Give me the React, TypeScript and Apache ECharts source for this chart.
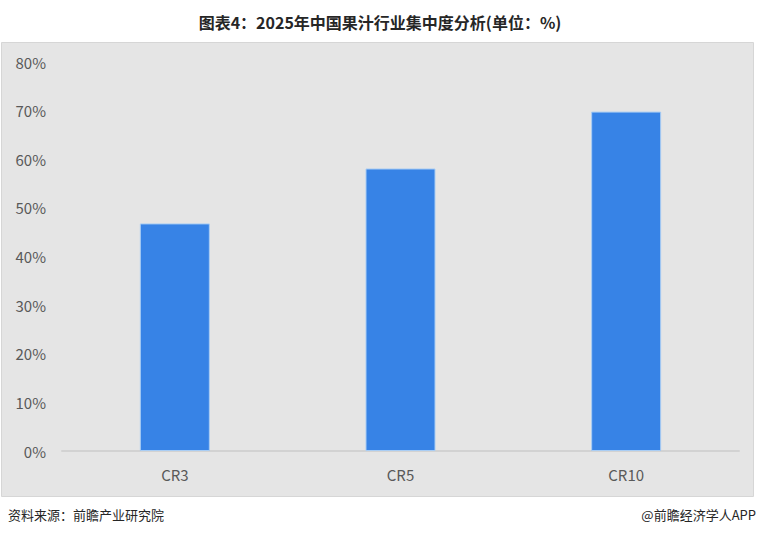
import React, { useEffect, useRef } from "react";
import * as echarts from "echarts";

const categories = ["CR3", "CR5", "CR10"];
const values = [46.8, 58.1, 69.8];
const yTicks = [0, 10, 20, 30, 40, 50, 60, 70, 80];

const titleText = "图表4：2025年中国果汁行业集中度分析(单位：%)";
const sourceText = "资料来源：前瞻产业研究院";
const creditText = "@前瞻经济学人APP";

export default function App() {
  const ref = useRef<HTMLDivElement>(null);
  useEffect(() => {
    document.body.style.margin = "0";
    const chart = echarts.init(ref.current!, null, { renderer: "svg" });
    const font = "'Noto Sans CJK SC', 'Noto Sans', sans-serif";
    chart.setOption({
      animation: false,
      backgroundColor: "#ffffff",
      textStyle: { fontFamily: font },
      title: {
        text: titleText,
        left: "center",
        top: 9,
        textStyle: { fontSize: 16, fontWeight: "bold", color: "#262626", fontFamily: font },
      },
      graphic: [
        {
          type: "rect",
          z: -10,
          silent: true,
          shape: { x: 1.5, y: 42.5, width: 752, height: 454 },
          style: { fill: "#e5e5e5", stroke: "#d6d6d6", lineWidth: 1 },
        },
        {
          type: "text",
          left: 8,
          top: 508,
          style: { text: sourceText, fontSize: 13, fill: "#262626", fontFamily: font },
        },
        {
          type: "text",
          right: 4,
          top: 508,
          style: { text: creditText, fontSize: 13, fill: "#262626", fontFamily: font },
        },
      ],
      grid: { left: 62, right: 21, top: 62, bottom: 86, containLabel: false },
      xAxis: {
        type: "category",
        data: categories,
        axisLine: { show: true, lineStyle: { color: "#d2d2d2", width: 2 } },
        axisTick: { show: false },
        axisLabel: { color: "#595959", fontSize: 15, margin: 16, fontFamily: font },
      },
      yAxis: {
        type: "value",
        min: 0,
        max: 80,
        interval: 10,
        axisLine: { show: false },
        axisTick: { show: false },
        splitLine: { show: false },
        axisLabel: {
          color: "#595959",
          fontSize: 15,
          margin: 16,
          fontFamily: font,
          formatter: (v: number) => (yTicks.includes(v) ? v + "%" : ""),
        },
      },
      series: [
        {
          type: "bar",
          data: values,
          barWidth: 70,
          itemStyle: { color: "#3783e6", borderColor: "#a9cdf4", borderWidth: 1 },
        },
      ],
    });
    return () => chart.dispose();
  }, []);
  return (
    <div
      ref={ref}
      style={{ position: "absolute", left: 0, top: 0, width: 760, height: 537 }}
    />
  );
}
